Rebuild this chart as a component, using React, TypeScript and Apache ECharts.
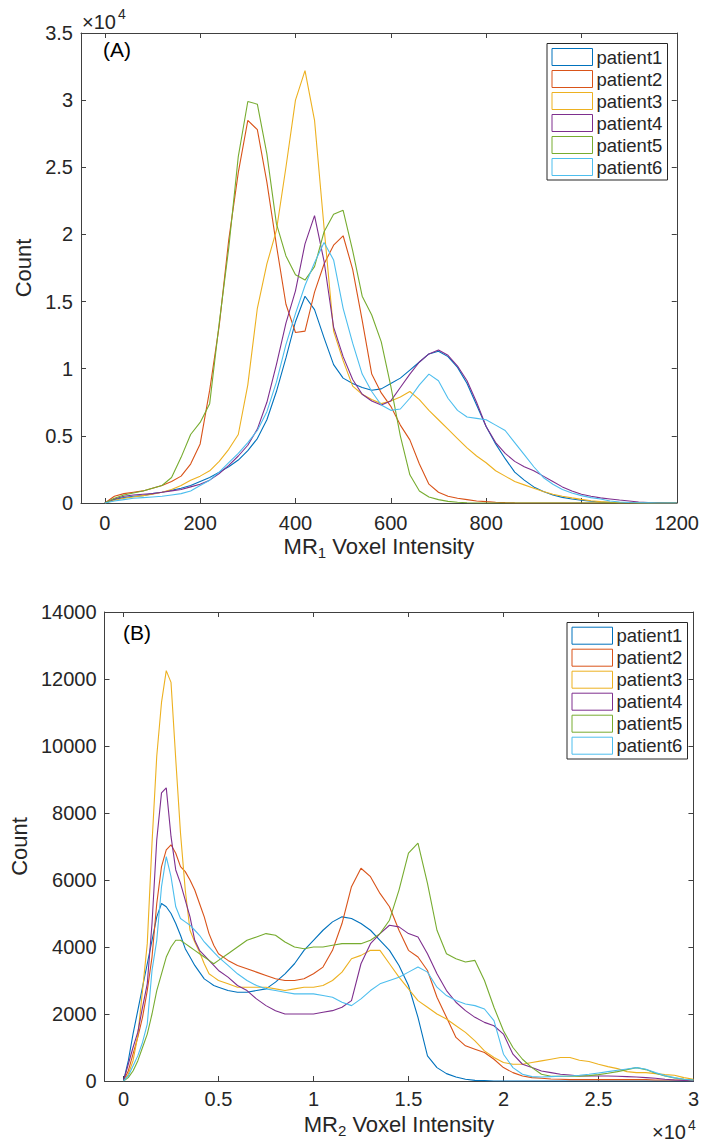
import React, { useEffect, useRef } from "react";
import * as echarts from "echarts";

// ---------- Panel A: MR1 histogram (bin centres every 20) ----------
const xA = [
  0, 20, 40, 60, 80, 100, 120, 140, 160, 180,
  200, 220, 240, 260, 280, 300, 320, 340, 360, 380,
  400, 420, 440, 460, 480, 500, 520, 540, 560, 580,
  600, 620, 640, 660, 680, 700, 720, 740, 760, 780,
  800, 820, 840, 860, 880, 900, 920, 940, 960, 980,
  1000, 1020, 1040, 1060, 1080, 1100, 1120, 1140, 1160, 1180,
  1200,
];
const p1A = [
  0, 250, 400, 500, 550, 700, 800, 950, 1100, 1300,
  1600, 1900, 2300, 2700, 3200, 3900, 4800, 6200, 8300, 10800,
  13500, 15400, 14400, 12300, 10300, 9300, 8900, 8600, 8400, 8500,
  8900, 9300, 9900, 10500, 11100, 11300, 10900, 10100, 8900, 7300,
  5700, 4400, 3300, 2300, 1700, 1200, 850, 600, 420, 300,
  200, 130, 80, 50, 30, 20, 10, 5, 0, 0,
  0,
];
const p2A = [
  0, 500, 700, 800, 900, 1100, 1300, 1600, 2000, 2900,
  4400, 8400, 13200, 19600, 24600, 28500, 27800, 23900, 19200, 14800,
  12700, 12800, 15700, 17800, 19200, 19900, 17400, 13600, 9600, 8200,
  7200, 5800, 4700, 2900, 1400, 800, 500, 350, 250, 150,
  100, 60, 30, 10, 0, 0, 0, 0, 0, 0,
  0, 0, 0, 0, 0, 0, 0, 0, 0, 0,
  0,
];
const p3A = [
  0, 200, 350, 450, 550, 650, 800, 1000, 1300, 1700,
  2000, 2400, 3100, 4000, 5100, 8800, 14500, 17800, 20300, 25000,
  30000, 32200, 28500, 20500, 12800, 10600, 8700, 8100, 7700, 7400,
  7600, 7900, 8300, 7700, 6900, 6200, 5500, 4800, 4100, 3500,
  3000, 2400, 2000, 1600, 1350, 1100, 850, 650, 500, 380,
  270, 170, 100, 60, 30, 15, 5, 0, 0, 0,
  0,
];
const p4A = [
  0, 300, 500, 600, 650, 700, 800, 900, 1000, 1200,
  1400, 1700, 2200, 2800, 3500, 4300, 5500, 7500, 10300, 13400,
  15800, 19300, 21400, 18000, 13100, 10900, 9200, 8100, 7600, 7300,
  7600, 8600, 9600, 10500, 11100, 11400, 11000, 10200, 9100, 7500,
  5700, 4500, 3700, 3100, 2700, 2400, 2000, 1600, 1200, 900,
  650, 500, 380, 300, 220, 150, 80, 40, 20, 0,
  0,
];
const p5A = [
  0, 350, 600, 750, 900, 1100, 1300, 1900, 3400, 5100,
  6000, 7400, 13400, 19000, 25800, 29900, 29700, 26000, 20800, 18400,
  17000, 16600, 17600, 20200, 21500, 21800, 18800, 15400, 14000, 12000,
  8700, 5000, 2100, 900, 450, 250, 120, 60, 20, 0,
  0, 0, 0, 0, 0, 0, 0, 0, 0, 0,
  0, 0, 0, 0, 0, 0, 0, 0, 0, 0,
  0,
];
const p6A = [
  0, 150, 250, 350, 400, 450, 500, 600, 700, 900,
  1300, 1700, 2300, 3000, 3700, 4500, 5400, 6800, 9000, 11800,
  14100, 16200, 17900, 19400, 18100, 14500, 11900, 9600, 8300, 7300,
  6900, 7000, 7800, 8800, 9600, 9100, 7800, 6900, 6400, 6300,
  6200, 5800, 5400, 4500, 3600, 2700, 1900, 1400, 1000, 750,
  550, 400, 300, 150, 80, 40, 20, 10, 0, 0,
  0,
];

// ---------- Panel B: MR2 histogram ----------
const xB = [
  0, 250, 500, 750, 1000, 1250, 1500, 1750, 2000, 2250,
  2500, 2750, 3000, 3250, 3500, 3750, 4000, 4250, 4500, 4750,
  5000,
  5500, 6000, 6500, 7000, 7500, 8000, 8500, 9000, 9500, 10000,
  10500, 11000, 11500, 12000, 12500, 13000, 13500, 14000, 14500, 15000,
  15500, 16000, 16500, 17000, 17500, 18000, 18500, 19000, 19500, 20000,
  20500, 21000, 21500, 22000, 22500, 23000, 23500, 24000, 24500, 25000,
  25500, 26000, 26500, 27000, 27500, 28000, 28500, 29000, 29500, 30000,
];
const p1B = [
  0, 600, 1400, 2100, 2800, 3500, 4200, 4900, 5300, 5200,
  5000, 4700, 4350, 3950, 3700, 3450, 3250, 3050, 2950, 2850,
  2800,
  2700, 2650, 2650, 2700, 2750, 2950, 3200, 3500, 3900, 4200,
  4500, 4750, 4900, 4850, 4700, 4500, 4200, 3900, 3450, 2850,
  1900, 750, 400, 220, 120, 50, 20, 10, 0, 0,
  0, 0, 0, 0, 0, 0, 0, 0, 0, 0,
  0, 0, 0, 0, 0, 0, 0, 0, 0, 0,
];
const p2B = [
  0, 300, 800, 1300, 1900, 2700, 3700, 5300, 6400, 6900,
  7050, 6800, 6400, 6250, 6000, 5700, 5300, 4900, 4400, 4050,
  3800,
  3600, 3450, 3350, 3250, 3150, 3050, 3000, 3000, 3050, 3200,
  3400, 3900, 4700, 5800, 6350, 6100, 5600, 5200, 4500, 3900,
  3700, 3300, 2500, 1900, 1300, 1050, 950, 850, 650, 400,
  250, 150, 100, 80, 60, 50, 40, 40, 40, 40,
  40, 40, 40, 40, 40, 30, 30, 30, 30, 30,
];
const p3B = [
  0, 200, 600, 1350, 2700, 4100, 7100, 9700, 11300, 12250,
  11900, 9600, 7400, 5700, 4500, 4150, 3850, 3500, 3200, 3100,
  3000,
  2900, 2800, 2800, 2800, 2800, 2750, 2700, 2750, 2800, 2800,
  2850, 3000, 3250, 3650, 3750, 3900, 3900, 3500, 3100, 2750,
  2400, 2200, 2000, 1850, 1650, 1450, 1200, 900, 700, 550,
  500, 500, 550, 600, 650, 700, 700, 620, 580, 500,
  430, 370, 280, 250, 250, 220, 190, 170, 100, 50,
];
const p4B = [
  0, 500, 1000, 1450, 2200, 2900, 4700, 7200, 8600, 8750,
  7300, 6300, 5900, 5400, 4900, 4200, 3900, 3750, 3600, 3450,
  3300,
  3100, 2850, 2700, 2450, 2250, 2100, 2000, 2000, 2000, 2000,
  2050, 2100, 2200, 2400, 3500, 4100, 4400, 4650, 4600, 4400,
  4300, 3800, 3200, 2700, 2350, 2100, 1900, 1750, 1650, 1400,
  800, 500, 400, 300, 250, 200, 180, 150, 150, 150,
  150, 140, 130, 120, 100, 80, 50, 30, 15, 0,
];
const p5B = [
  0, 100, 300, 600, 1000, 1400, 2000, 2700, 3200, 3700,
  4000, 4200, 4200, 4100, 4000, 3900, 3800, 3700, 3600, 3500,
  3600,
  3800, 4000, 4200, 4300, 4400, 4350, 4150, 4000, 3950, 4000,
  4000, 4050, 4100, 4100, 4100, 4200, 4400, 4800, 5700, 6800,
  7100, 5900, 4500, 3800, 3650, 3550, 3600, 3000, 2200, 1500,
  1000, 650, 400, 200, 140, 140, 140, 140, 160, 190,
  230, 280, 340, 400, 340, 230, 150, 90, 50, 30,
];
const p6B = [
  0, 150, 450, 750, 1150, 1700, 3300, 4200, 5800, 6700,
  6100, 5200, 4850, 4750, 4650, 4500, 4350, 4150, 4000, 3850,
  3700,
  3450, 3200, 3000, 2850, 2750, 2700, 2650, 2600, 2600, 2600,
  2550, 2500, 2350, 2250, 2450, 2700, 2900, 3000, 3100, 3250,
  3400, 3250, 2800, 2550, 2400, 2300, 2250, 2150, 1800, 800,
  400, 200, 130, 120, 130, 140, 150, 170, 200, 240,
  280, 320, 360, 400, 350, 250, 160, 100, 50, 30,
];

// ---------- Labels / ticks ----------
const seriesNames = ["patient1", "patient2", "patient3", "patient4", "patient5", "patient6"];
const colors = ["#0072BD", "#D95319", "#EDB120", "#7E2F8E", "#77AC30", "#4DBEEE"];
const ticksXA = [0, 200, 400, 600, 800, 1000, 1200];
const ticksXB = [0, 5000, 10000, 15000, 20000, 25000, 30000];

const seriesA = [p1A, p2A, p3A, p4A, p5A, p6A];
const seriesB = [p1B, p2B, p3B, p4B, p5B, p6B];

const FONT = '"Liberation Sans", Arial, Helvetica, sans-serif';
const TXT = "#262626";
const AX = "#404040";

function xAxisDef(grid: number, min: number, max: number, ticks: number[], pos: string, showLabel: boolean, margin: number, scaled: boolean, name?: string) {
  return {
    type: "value",
    gridIndex: grid,
    position: pos,
    min,
    max,
    name: name || "",
    nameLocation: "middle",
    nameGap: 29,
    nameTextStyle: {
      color: TXT,
      fontFamily: FONT,
      rich: {
        a: { fontSize: 22, lineHeight: 28, fontFamily: FONT, color: TXT },
        s: { fontSize: 15, lineHeight: 15, verticalAlign: "bottom", fontFamily: FONT, color: TXT },
      },
    },
    axisLine: { show: true, onZero: false, lineStyle: { color: AX, width: 1 } },
    axisTick: { show: true, inside: true, length: 5, customValues: ticks, lineStyle: { color: AX, width: 1 } },
    axisLabel: {
      show: showLabel,
      customValues: ticks,
      margin,
      color: TXT,
      fontSize: 20,
      fontFamily: FONT,
      formatter: (v: number) => String(scaled ? v / 10000 : v),
    },
    splitLine: { show: false },
  };
}

function yAxisDef(grid: number, max: number, interval: number, pos: string, showLabel: boolean, scaled: boolean, nameGap: number) {
  return {
    type: "value",
    gridIndex: grid,
    position: pos,
    min: 0,
    max,
    interval,
    name: showLabel ? "Count" : "",
    nameLocation: "middle",
    nameGap,
    nameTextStyle: { color: TXT, fontFamily: FONT, fontSize: 22 },
    axisLine: { show: true, onZero: false, lineStyle: { color: AX, width: 1 } },
    axisTick: { show: true, inside: true, length: 5, lineStyle: { color: AX, width: 1 } },
    axisLabel: {
      show: showLabel,
      margin: 8,
      color: TXT,
      fontSize: 20,
      fontFamily: FONT,
      formatter: (v: number) => String(scaled ? v / 10000 : v),
    },
    splitLine: { show: false },
  };
}

function legendGraphics(boxX: number, boxY: number, boxW: number, boxH: number, firstRowY: number) {
  const els: any[] = [
    {
      type: "rect",
      z: 100,
      shape: { x: boxX, y: boxY, width: boxW, height: boxH },
      style: { fill: "#ffffff", stroke: "#262626", lineWidth: 1 },
    },
  ];
  seriesNames.forEach((n, i) => {
    const cy = firstRowY + i * 22;
    els.push({
      type: "rect",
      z: 101,
      shape: { x: boxX + 5, y: cy - 8.5, width: 40.5, height: 17 },
      style: { fill: "#ffffff", stroke: colors[i], lineWidth: 1 },
    });
    els.push({
      type: "text",
      z: 101,
      x: boxX + 49.5,
      y: cy,
      style: { text: n, fontSize: 18.5, fontFamily: FONT, fill: TXT, verticalAlign: "middle", align: "left" },
    });
  });
  return els;
}

function exponentGraphics(x: number, y: number) {
  return [
    {
      type: "text",
      z: 100,
      x,
      y,
      style: { text: "×10", fontSize: 20, fontFamily: FONT, fill: TXT, verticalAlign: "middle", align: "left" },
    },
    {
      type: "text",
      z: 100,
      x: x + 36,
      y: y - 7.5,
      style: { text: "4", fontSize: 14, fontFamily: FONT, fill: TXT, verticalAlign: "middle", align: "left" },
    },
  ];
}

export default function App() {
  const ref = useRef<HTMLDivElement>(null);
  useEffect(() => {
    if (!ref.current) return;
    const chart = echarts.init(ref.current, undefined, { renderer: "svg" });
    const series: any[] = [];
    seriesA.forEach((arr, i) => {
      series.push({
        name: seriesNames[i],
        type: "line",
        xAxisIndex: 0,
        yAxisIndex: 0,
        showSymbol: false,
        symbol: "none",
        silent: true,
        lineStyle: { width: 1.1, color: colors[i] },
        itemStyle: { color: colors[i] },
        data: xA.map((x, j) => [x, arr[j]]),
      });
    });
    seriesB.forEach((arr, i) => {
      series.push({
        name: seriesNames[i],
        type: "line",
        xAxisIndex: 2,
        yAxisIndex: 2,
        showSymbol: false,
        symbol: "none",
        silent: true,
        lineStyle: { width: 1.1, color: colors[i] },
        itemStyle: { color: colors[i] },
        data: xB.map((x, j) => [x, arr[j]]),
      });
    });

    const option: any = {
      animation: false,
      backgroundColor: "#ffffff",
      textStyle: { fontFamily: FONT },
      grid: [
        { left: 81, top: 33, width: 597, height: 470, containLabel: false },
        { left: 100, top: 612, width: 598, height: 469, containLabel: false },
      ],
      xAxis: [
        xAxisDef(0, -50, 1200, ticksXA, "bottom", true, 10, false, "{a|MR}{s|1}{a| Voxel Intensity}"),
        xAxisDef(0, -50, 1200, ticksXA, "top", false, 10, false),
        xAxisDef(1, -1000, 30000, ticksXB, "bottom", true, 8, true, "{a|MR}{s|2}{a| Voxel Intensity}"),
        xAxisDef(1, -1000, 30000, ticksXB, "top", false, 8, true),
      ],
      yAxis: [
        yAxisDef(0, 35000, 5000, "left", true, true, 36),
        yAxisDef(0, 35000, 5000, "right", false, true, 36),
        yAxisDef(1, 14000, 2000, "left", true, false, 64),
        yAxisDef(1, 14000, 2000, "right", false, false, 64),
      ],
      series,
      graphic: [
        ...exponentGraphics(82, 21.5),
        ...exponentGraphics(652, 1132),
        {
          type: "text",
          z: 100,
          x: 103,
          y: 49,
          style: { text: "(A)", fontSize: 21, fontFamily: FONT, fill: "#000000", verticalAlign: "middle" },
        },
        {
          type: "text",
          z: 100,
          x: 123,
          y: 632,
          style: { text: "(B)", fontSize: 21, fontFamily: FONT, fill: "#000000", verticalAlign: "middle" },
        },
        ...legendGraphics(547, 43.5, 120.5, 136.5, 57),
        ...legendGraphics(567, 622.5, 120.5, 136.5, 635.7),
      ],
    };
    chart.setOption(option);
    return () => chart.dispose();
  }, []);
  return <div ref={ref} style={{ position: "fixed", left: 0, top: 0, width: 702, height: 1147, background: "#fff" }} />;
}
